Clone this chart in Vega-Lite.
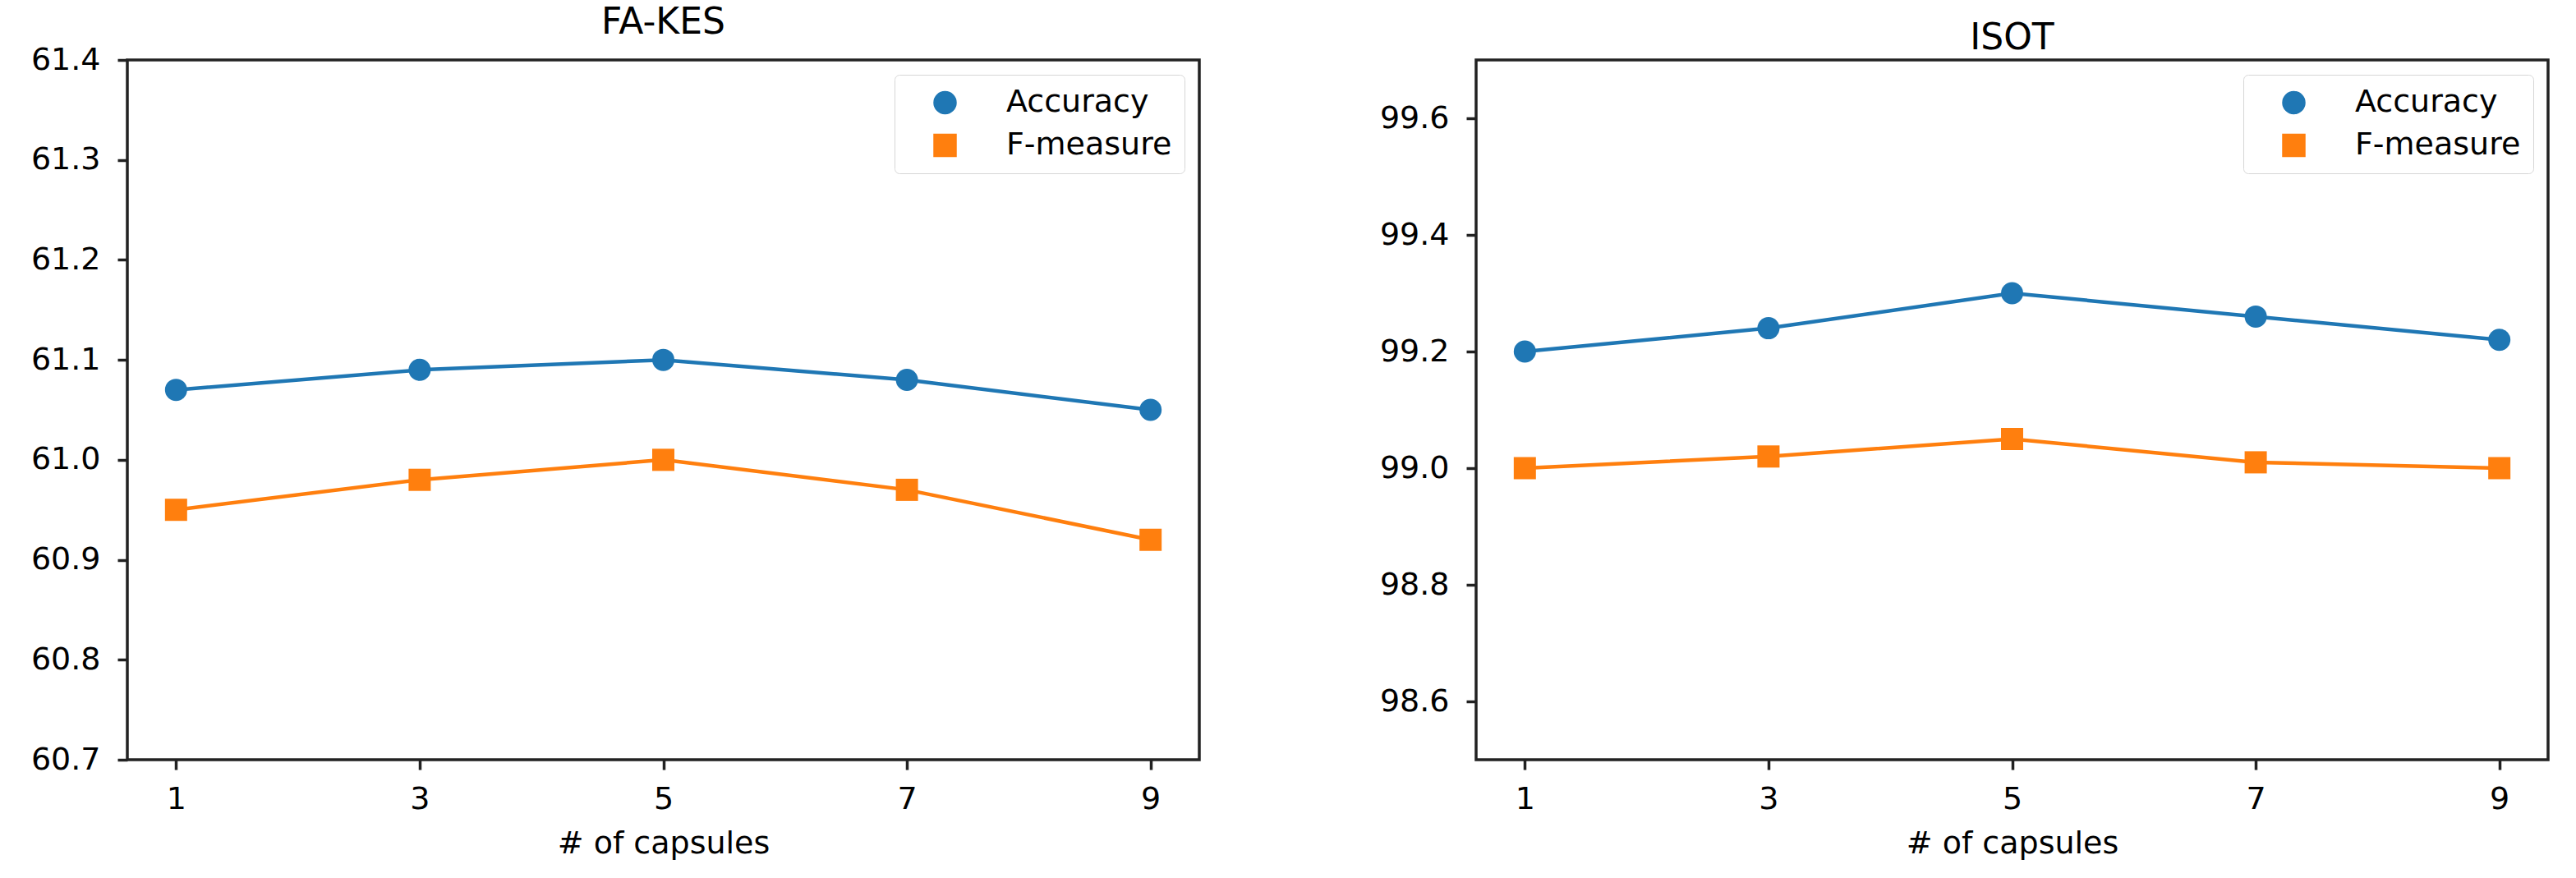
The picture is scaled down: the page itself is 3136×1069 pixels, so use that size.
{
  "$schema": "https://vega.github.io/schema/vega-lite/v6.json",
  "background": "white",
  "padding": {"left": 35, "top": 4, "right": 10, "bottom": 5},
  "config": {
    "font": "DejaVu Sans",
    "view": {"stroke": "#222222", "strokeWidth": 3.5},
    "axis": {
      "domain": false,
      "grid": false,
      "labelFont": "DejaVu Sans",
      "labelFontSize": 38,
      "labelColor": "#000000",
      "titleFont": "DejaVu Sans",
      "titleFontSize": 38,
      "titleFontWeight": "normal",
      "titleColor": "#000000",
      "tickColor": "#222222",
      "tickWidth": 3.5,
      "tickSize": 12
    },
    "axisX": {"labelPadding": 17, "titlePadding": 16},
    "axisY": {"labelPadding": 21},
    "title": {"font": "DejaVu Sans", "fontSize": 44, "fontWeight": "normal", "color": "#000000", "anchor": "middle", "baseline": "alphabetic", "offset": 0},
    "legend": {
      "orient": "top-right",
      "offset": 18,
      "padding": 15,
      "cornerRadius": 6,
      "strokeColor": "#d6d6d6",
      "fillColor": "#ffffff",
      "labelFont": "DejaVu Sans",
      "labelFontSize": 38,
      "labelColor": "#000000",
      "labelLimit": 600,
      "symbolOffset": 27.5,
      "labelOffset": 55.5,
      "rowPadding": 14,
      "symbolSize": 729,
      "symbolOpacity": 1
    }
  },
  "data": {
    "values": [
      {"dataset": "FA-KES", "capsules": 1, "series": "Accuracy", "value": 61.07},
      {"dataset": "FA-KES", "capsules": 3, "series": "Accuracy", "value": 61.09},
      {"dataset": "FA-KES", "capsules": 5, "series": "Accuracy", "value": 61.10},
      {"dataset": "FA-KES", "capsules": 7, "series": "Accuracy", "value": 61.08},
      {"dataset": "FA-KES", "capsules": 9, "series": "Accuracy", "value": 61.05},
      {"dataset": "FA-KES", "capsules": 1, "series": "F-measure", "value": 60.95},
      {"dataset": "FA-KES", "capsules": 3, "series": "F-measure", "value": 60.98},
      {"dataset": "FA-KES", "capsules": 5, "series": "F-measure", "value": 61.00},
      {"dataset": "FA-KES", "capsules": 7, "series": "F-measure", "value": 60.97},
      {"dataset": "FA-KES", "capsules": 9, "series": "F-measure", "value": 60.92},
      {"dataset": "ISOT", "capsules": 1, "series": "Accuracy", "value": 99.20},
      {"dataset": "ISOT", "capsules": 3, "series": "Accuracy", "value": 99.24},
      {"dataset": "ISOT", "capsules": 5, "series": "Accuracy", "value": 99.30},
      {"dataset": "ISOT", "capsules": 7, "series": "Accuracy", "value": 99.26},
      {"dataset": "ISOT", "capsules": 9, "series": "Accuracy", "value": 99.22},
      {"dataset": "ISOT", "capsules": 1, "series": "F-measure", "value": 99.00},
      {"dataset": "ISOT", "capsules": 3, "series": "F-measure", "value": 99.02},
      {"dataset": "ISOT", "capsules": 5, "series": "F-measure", "value": 99.05},
      {"dataset": "ISOT", "capsules": 7, "series": "F-measure", "value": 99.01},
      {"dataset": "ISOT", "capsules": 9, "series": "F-measure", "value": 99.00}
    ]
  },
  "bounds": "flush",
  "spacing": 337,
  "resolve": {"scale": {"color": "independent", "shape": "independent", "y": "independent"}, "legend": {"color": "independent", "shape": "independent"}},
  "hconcat": [
    {
      "width": 1305,
      "height": 852,
      "title": {"text": "FA-KES"},
      "transform": [{"filter": "datum.dataset === 'FA-KES'"}],
      "encoding": {
        "x": {"field": "capsules", "type": "quantitative", "scale": {"domain": [0.6, 9.4], "nice": false, "zero": false}, "axis": {"values": [1, 3, 5, 7, 9], "title": "# of capsules"}},
        "y": {"field": "value", "type": "quantitative", "scale": {"domain": [60.7, 61.4], "nice": false, "zero": false}, "axis": {"values": [60.7, 60.8, 60.9, 61.0, 61.1, 61.2, 61.3, 61.4], "format": ".1f", "title": null}},
        "color": {
          "field": "series", "type": "nominal",
          "scale": {"domain": ["Accuracy", "F-measure"], "range": ["#1f77b4", "#ff7f0e"]},
          "legend": {"title": null}
        }
      },
      "layer": [
        {"mark": {"type": "line", "strokeWidth": 4.5}},
        {"mark": {"type": "point", "filled": true, "opacity": 1, "size": 729},
         "encoding": {"shape": {"field": "series", "type": "nominal", "scale": {"domain": ["Accuracy", "F-measure"], "range": ["circle", "square"]}, "legend": null}}}
      ]
    },
    {
      "width": 1305,
      "height": 852,
      "title": {"text": "ISOT"},
      "transform": [{"filter": "datum.dataset === 'ISOT'"}],
      "encoding": {
        "x": {"field": "capsules", "type": "quantitative", "scale": {"domain": [0.6, 9.4], "nice": false, "zero": false}, "axis": {"values": [1, 3, 5, 7, 9], "title": "# of capsules"}},
        "y": {"field": "value", "type": "quantitative", "scale": {"domain": [98.5, 99.7], "nice": false, "zero": false}, "axis": {"values": [98.6, 98.8, 99.0, 99.2, 99.4, 99.6], "format": ".1f", "title": null}},
        "color": {
          "field": "series", "type": "nominal",
          "scale": {"domain": ["Accuracy", "F-measure"], "range": ["#1f77b4", "#ff7f0e"]},
          "legend": {"title": null}
        }
      },
      "layer": [
        {"mark": {"type": "line", "strokeWidth": 4.5}},
        {"mark": {"type": "point", "filled": true, "opacity": 1, "size": 729},
         "encoding": {"shape": {"field": "series", "type": "nominal", "scale": {"domain": ["Accuracy", "F-measure"], "range": ["circle", "square"]}, "legend": null}}}
      ]
    }
  ]
}
